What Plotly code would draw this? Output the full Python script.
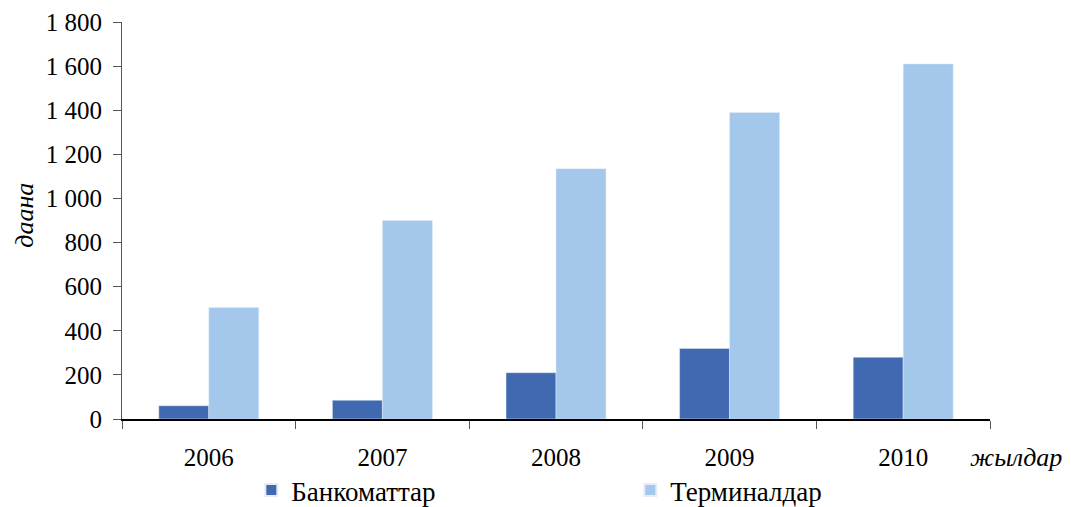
import plotly.graph_objects as go

years = ["2006", "2007", "2008", "2009", "2010"]
atms = [60, 85, 210, 320, 280]
terminals = [505, 900, 1135, 1390, 1610]
y_ticks = [0, 200, 400, 600, 800, 1000, 1200, 1400, 1600, 1800]
y_tick_labels = ["0", "200", "400", "600", "800", "1 000", "1 200", "1 400", "1 600", "1 800"]

font_family = "'Liberation Serif', 'Times New Roman', serif"

fig = go.Figure()
fig.add_trace(go.Bar(x=years, y=atms, name="Банкоматтар", marker_color="#4169B1"))
fig.add_trace(go.Bar(x=years, y=terminals, name="Терминалдар", marker_color="#A3C8EB"))

fig.update_layout(
    width=1071, height=507,
    margin=dict(l=122, r=81, t=22, b=88, autoexpand=False),
    paper_bgcolor="white", plot_bgcolor="white",
    barmode="group", bargap=0.424, bargroupgap=0,
    font=dict(family=font_family, size=24, color="black"),
    showlegend=True,
    legend=dict(orientation="h", x=0.149, xanchor="left", y=-0.18, yanchor="middle",
                entrywidth=334, entrywidthmode="pixels",
                font=dict(family=font_family, size=27), itemsizing="constant"),
)
fig.update_xaxes(
    type="category", tickson="boundaries", ticks="outside", ticklen=8, tickcolor="#555",
    showline=True, linecolor="black", linewidth=2, showgrid=False,
    ticklabelstandoff=15, tickfont=dict(family=font_family, size=25),
)
fig.update_yaxes(
    range=[0, 1800], tickvals=y_ticks, ticktext=y_tick_labels,
    ticks="outside", ticklen=8, tickcolor="#555",
    showline=True, linecolor="#555", linewidth=1, showgrid=False, zeroline=False,
    ticklabelstandoff=6, tickfont=dict(family=font_family, size=25),
)
fig.add_annotation(text="<i>даана</i>", xref="paper", yref="paper", x=-0.112, xanchor="center", y=0.514,
                   textangle=-90, showarrow=False, font=dict(family=font_family, size=26))
fig.add_annotation(text="<i>жылдар</i>", xref="paper", yref="paper", x=0.975, xanchor="left", y=-0.098,
                   yanchor="middle", showarrow=False, font=dict(family=font_family, size=26))

fig.write_html("out.html", post_script="document.body.style.margin='0';",
               config={"displayModeBar": False})
